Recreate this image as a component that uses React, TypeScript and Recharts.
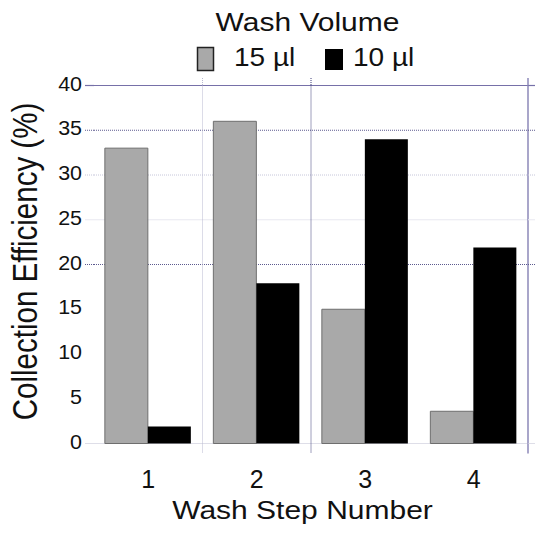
import React from 'react';
import { BarChart, Bar, XAxis, YAxis, ReferenceLine, CartesianGrid } from 'recharts';

const steps = ['1', '2', '3', '4'];
const vol15 = [33, 36, 15, 3.6];
const vol10 = [1.9, 17.9, 34, 21.9];
const seriesNames = ['15 \u00b5l', '10 \u00b5l'];
const seriesColors = ['#a9a9a9', '#000000'];
const yTicks = [0, 5, 10, 15, 20, 25, 30, 35, 40];
const legendTitle = 'Wash Volume';
const xTitle = 'Wash Step Number';
const yTitle = 'Collection Efficiency (%)';

// gridline groups (values) with their styles
const hGroups = [
  { vals: [40], stroke: '#7670a8', dash: undefined, w: 1.2 },
  { vals: [35, 20], stroke: '#5c5a8e', dash: '1 1', w: 1 },
  { vals: [30], stroke: '#c6c6da', dash: '1 1', w: 1 },
  { vals: [25], stroke: '#e8e8f0', dash: undefined, w: 1 },
  { vals: [0], stroke: '#dedee8', dash: undefined, w: 1 },
];
const vGroups = [
  { vals: [1.5], stroke: '#b8b8d0', dash: '1 1', w: 1 },
  { vals: [2.5], stroke: '#3c3c78', dash: '1 1', w: 1 },
  { vals: [4.5], stroke: '#8c88b8', dash: undefined, w: 1.5 },
];

const data = steps.map((s, i) => ({ step: s, pos: i + 1, v15: vol15[i], v10: vol10[i] }));

const FONT = 'Liberation Sans, Arial, sans-serif';

const YTick = (p: any) => (
  <text
    transform={`translate(${p.x},${p.y + 5}) scale(1.1,1)`}
    textAnchor="end"
    fontSize={19.5}
    fontFamily={FONT}
    fill="#111"
  >
    {p.payload.value}
  </text>
);

const XTick = (p: any) => (
  <text x={p.x} y={p.y + 44.5} textAnchor="middle" fontSize={25} fontFamily={FONT} fill="#111">
    {p.payload.value}
  </text>
);

// only the parts of grid lines that stick out of the plot area
const hExt = (st: any) => (p: any) => {
  const a = Math.min(p.x1, p.x2);
  const b = Math.max(p.x1, p.x2);
  return (
    <g>
      <line x1={a - 9} x2={a} y1={p.y1} y2={p.y2} stroke={st.stroke} strokeWidth={st.w} strokeDasharray={st.dash} />
      <line x1={b} x2={b + 7} y1={p.y1} y2={p.y2} stroke={st.stroke} strokeWidth={st.w} strokeDasharray={st.dash} />
    </g>
  );
};

const vExt = (st: any) => (p: any) => {
  const a = Math.min(p.y1, p.y2);
  const b = Math.max(p.y1, p.y2);
  return (
    <g>
      <line x1={p.x1} x2={p.x2} y1={a - 7.5} y2={a} stroke={st.stroke} strokeWidth={st.w} strokeDasharray={st.dash} />
      <line x1={p.x1} x2={p.x2} y1={b} y2={b + 10} stroke={st.stroke} strokeWidth={st.w} strokeDasharray={st.dash} />
    </g>
  );
};

const hGen = (vals: number[]) => (args: any) => {
  const s = args?.yAxis?.scale;
  if (typeof s === 'function') return vals.map((v) => s(v));
  const o = args.offset;
  return vals.map((v) => o.top + o.height * (1 - v / 40));
};

const vGen = (vals: number[]) => (args: any) => {
  const s = args?.xAxis?.scale;
  if (typeof s === 'function') return vals.map((v) => s(v));
  const o = args.offset;
  return vals.map((v) => o.left + (o.width * (v - 0.5)) / 4);
};

const YLabel = (p: any) => {
  const vb = p.viewBox || {};
  const cy = (vb.y ?? 86) + (vb.height ?? 358) / 2;
  return (
    <text
      transform={`translate(25,${cy - 3}) rotate(-90) scale(1,1.2)`}
      textAnchor="middle"
      dominantBaseline="central"
      fontSize={29.5}
      fontFamily={FONT}
      fill="#111"
    >
      {yTitle}
    </text>
  );
};

const XLabel = () => (
  <text
    transform={`translate(302.5,518.5) scale(1.2,1)`}
    textAnchor="middle"
    fontSize={25}
    fontFamily={FONT}
    fill="#111"
  >
    {xTitle}
  </text>
);

const LegendOverlay = () => (
  <svg width={550} height={80} style={{ position: 'absolute', left: 0, top: 0, pointerEvents: 'none' }}>
    <text
      transform="translate(307.5,30.5) scale(1.2,1)"
      textAnchor="middle"
      fontSize={25}
      fontFamily={FONT}
      fill="#111"
    >
      {legendTitle}
    </text>
    <rect x={197.5} y={47.5} width={16} height={23} fill={seriesColors[0]} stroke="#222" strokeWidth={1.5} />
    <text transform="translate(234,65.5) scale(1.12,1)" fontSize={25} fontFamily={FONT} fill="#111">
      {seriesNames[0]}
    </text>
    <rect x={325} y={49} width={18} height={21} fill={seriesColors[1]} />
    <text transform="translate(353,65.5) scale(1.12,1)" fontSize={25} fontFamily={FONT} fill="#111">
      {seriesNames[1]}
    </text>
  </svg>
);

export default function App() {
  return (
    <div style={{ position: 'absolute', left: 0, top: 0, width: 550, height: 546, background: '#fff' }}>
      <BarChart
        width={550}
        height={546}
        data={data}
        margin={{ top: 85.5, right: 22, bottom: 0, left: 0 }}
        barCategoryGap="10%"
        barGap={0}
      >
        {hGroups.map((g, i) => (
          <CartesianGrid
            key={'hg' + i}
            vertical={false}
            horizontalCoordinatesGenerator={hGen(g.vals)}
            stroke={g.stroke}
            strokeWidth={g.w}
            strokeDasharray={g.dash}
          />
        ))}
        {vGroups.map((g, i) => (
          <CartesianGrid
            key={'vg' + i}
            xAxisId="grid"
            horizontal={false}
            verticalCoordinatesGenerator={vGen(g.vals)}
            stroke={g.stroke}
            strokeWidth={g.w}
            strokeDasharray={g.dash}
          />
        ))}
        <XAxis
          dataKey="step"
          height={102.5}
          axisLine={false}
          tickLine={false}
          tickSize={0}
          tickMargin={0}
          tick={<XTick />}
          label={<XLabel />}
        />
        <XAxis xAxisId="grid" type="number" dataKey="pos" domain={[0.5, 4.5]} hide />
        <YAxis
          width={94}
          domain={[0, 40]}
          ticks={yTicks}
          axisLine={false}
          tickLine={false}
          tickSize={0}
          tickMargin={12}
          tick={<YTick />}
          label={<YLabel />}
        />
        {hGroups.flatMap((g) =>
          g.vals.map((v) => <ReferenceLine key={'h' + v} y={v} ifOverflow="visible" shape={hExt(g)} />)
        )}
        {vGroups.flatMap((g) =>
          g.vals.map((v) => (
            <ReferenceLine key={'v' + v} x={v} xAxisId="grid" ifOverflow="visible" shape={vExt(g)} />
          ))
        )}
        <Bar dataKey="v15" name={seriesNames[0]} fill={seriesColors[0]} stroke="#6e6e6e" strokeWidth={1} isAnimationActive={false} />
        <Bar dataKey="v10" name={seriesNames[1]} fill={seriesColors[1]} isAnimationActive={false} />
      </BarChart>
      <LegendOverlay />
    </div>
  );
}
